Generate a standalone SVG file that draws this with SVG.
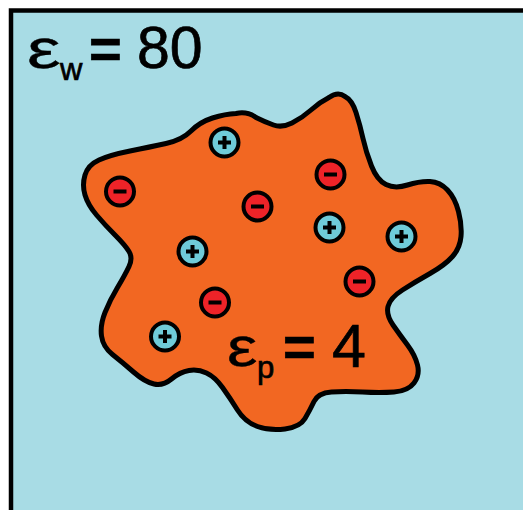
<svg xmlns="http://www.w3.org/2000/svg" width="523" height="510" viewBox="0 0 523 510">
<style>
.lbl{font-family:"Liberation Sans",Arial,sans-serif;fill:#000;stroke:#000;stroke-width:0.7}
.eps{stroke-width:0.4}
.pos{fill:#6FCBD9;stroke:#000;stroke-width:4}
.neg{fill:#EE2328;stroke:#000;stroke-width:4}
.sign{fill:#000}
</style>
<defs>
<g id="plus"><circle r="14" class="pos"/><rect x="-6.5" y="-2" width="13" height="4" class="sign"/><rect x="-2" y="-6.5" width="4" height="13" class="sign"/></g>
<g id="minus"><circle r="14" class="neg"/><rect x="-6.5" y="-2" width="13" height="4" class="sign"/></g>
</defs>
<g id="water">
<rect x="11" y="10.5" width="530" height="520" fill="#A8DCE5" stroke="#000" stroke-width="4.5"/>
<text class="lbl eps" transform="translate(27,68) scale(1.35,1)" font-size="56">ε</text>
<text class="lbl" x="60" y="80" font-size="31">w</text>
<text class="lbl" x="89" y="68" font-size="56" font-weight="bold" stroke-width="0">=</text>
<text class="lbl" x="137" y="68" font-size="59">80</text>
</g>
<g id="protein">
<path fill="#F26722" stroke="#000" stroke-width="5" stroke-linejoin="round" d="M 85,195 Q 82,185 85,175 Q 88,165 99,160 Q 110,155 130,151 Q 150,147 166,143.5 Q 182,140 191,131 Q 200,122 212.5,118 Q 225,114 236,113.5 Q 247,111 256,117.5 Q 265,122 273.5,125 Q 282,128 292,123 Q 302,118 311,110 Q 320,102 329,97.5 Q 338,91 345,96.5 Q 352,100 356,112.5 Q 360,125 363,138.5 Q 366,152 371.5,166 Q 377,180 386,184.5 Q 395,189 407.5,185 Q 420,181 430,181.5 Q 440,182 447.5,190 Q 455,198 458.5,211.5 Q 462,225 461,236.5 Q 460,248 452.5,256.5 Q 445,265 430,273.5 Q 415,282 402.5,290 Q 390,298 388,306.5 Q 386,315 393,325 Q 400,335 407.5,345 Q 415,355 417.5,365 Q 420,375 414,383 Q 408,391 394,392 Q 380,393 362.5,392 Q 345,391 331.5,392 Q 318,393 314,401.5 Q 310,410 305,418.5 Q 300,427 285,429 Q 270,431 257.5,426.5 Q 245,422 237.5,410 Q 230,398 222.5,387.5 Q 215,377 206.5,373 Q 198,369 189,370.5 Q 180,372 171.5,379 Q 163,386 154,384 Q 145,382 133.5,372 Q 122,362 112.5,354.5 Q 103,347 101.5,336 Q 100,325 105,312.5 Q 110,300 117.5,287.5 Q 125,275 129,266.5 Q 133,258 129,251.5 Q 125,245 115,235 Q 105,225 96.5,215 Q 88,205 85,195 Z"/>
<text class="lbl eps" transform="translate(227,366) scale(1.22,1)" font-size="56">ε</text>
<text class="lbl" x="257" y="378" font-size="31">p</text>
<text class="lbl" x="283" y="366" font-size="56" font-weight="bold" stroke-width="0">=</text>
<text class="lbl" x="332" y="367" font-size="61">4</text>
</g>
<g id="charges">
<use href="#plus" x="224.5" y="142.5"/>
<use href="#plus" x="192.5" y="251.5"/>
<use href="#plus" x="329.5" y="227.5"/>
<use href="#plus" x="401.5" y="236.5"/>
<use href="#plus" x="165" y="336.5"/>
<use href="#minus" x="120" y="191.5"/>
<use href="#minus" x="257.5" y="206.5"/>
<use href="#minus" x="330.5" y="174.5"/>
<use href="#minus" x="359.5" y="281.5"/>
<use href="#minus" x="215" y="302.5"/>
</g>
</svg>
